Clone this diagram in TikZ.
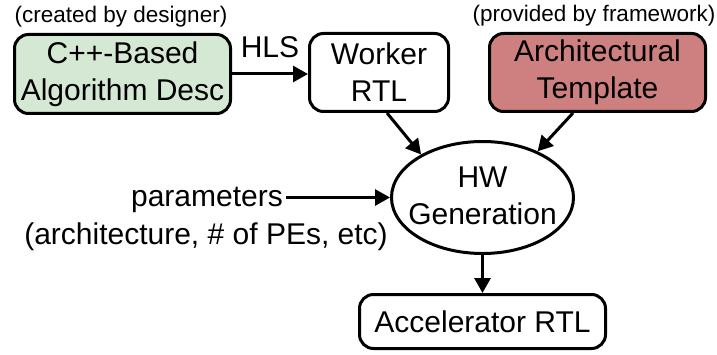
\documentclass[tikz,border=0pt]{standalone}
\usepackage{fontspec}
\setmainfont{Liberation Sans}
\usetikzlibrary{arrows.meta,shapes.geometric}
\definecolor{boxgreen}{RGB}{213,232,212}
\definecolor{boxred}{RGB}{206,128,128}
\begin{document}
\begin{tikzpicture}[x=1pt,y=-1pt,
  big/.style={font=\fontsize{30}{37}\selectfont},
  small/.style={font=\fontsize{22.5}{27}\selectfont},
  box/.style={draw=black, line width=3pt, rounded corners=14pt, inner sep=0pt, align=center, big},
  arr/.style={line width=3pt, -{Triangle[length=15pt,width=16pt]}}]
\useasboundingbox (0,0) rectangle (717,355);
\node[box, fill=boxgreen, minimum width=216pt, minimum height=79pt] (algo) at (122.5,74) {C++-Based\\Algorithm Desc};
\node[box, fill=white, minimum width=139pt, minimum height=78pt] (worker) at (379,72.5) {Worker\\RTL};
\node[box, fill=boxred, minimum width=216pt, minimum height=78pt] (tmpl) at (597.5,72.5) {Architectural\\Template};
\node[draw=black, line width=3pt, ellipse, inner sep=0pt, minimum width=182pt, minimum height=112pt] (hw) at (482.5,197.5) {};
\node[big, align=center, inner sep=0pt] (hwtext) at ([yshift=2pt]hw.center) {HW\\Generation};
\node[box, fill=white, minimum width=246pt, minimum height=54pt] (acc) at (482.5,321.5) {Accelerator RTL};
\node[small, anchor=base, inner sep=0pt] (created) at (121,23) {(created by designer)};
\node[small, anchor=base, inner sep=0pt] (provided) at (594,22) {(provided by framework)};
\node[big, anchor=base east, inner sep=0pt] (params) at (283,207) {parameters};
\node[big, anchor=base, inner sep=0pt] (paramsub) at (206,244) {(architecture, \# of PEs, etc)};
\draw[arr] (algo.east) -- node[midway, above=15pt, inner sep=0pt, big] (hls) {HLS} (algo.east -| worker.west);
\draw[arr] ([xshift=8pt]worker.south) -- (hw.145);
\draw[arr] ([xshift=-24.5pt]tmpl.south) -- (hw.40);
\draw[arr] ([xshift=3pt]params.east |- hw.west) -- (hw.west);
\draw[arr] (hw.south) -- (acc.north);
\end{tikzpicture}
\end{document}
